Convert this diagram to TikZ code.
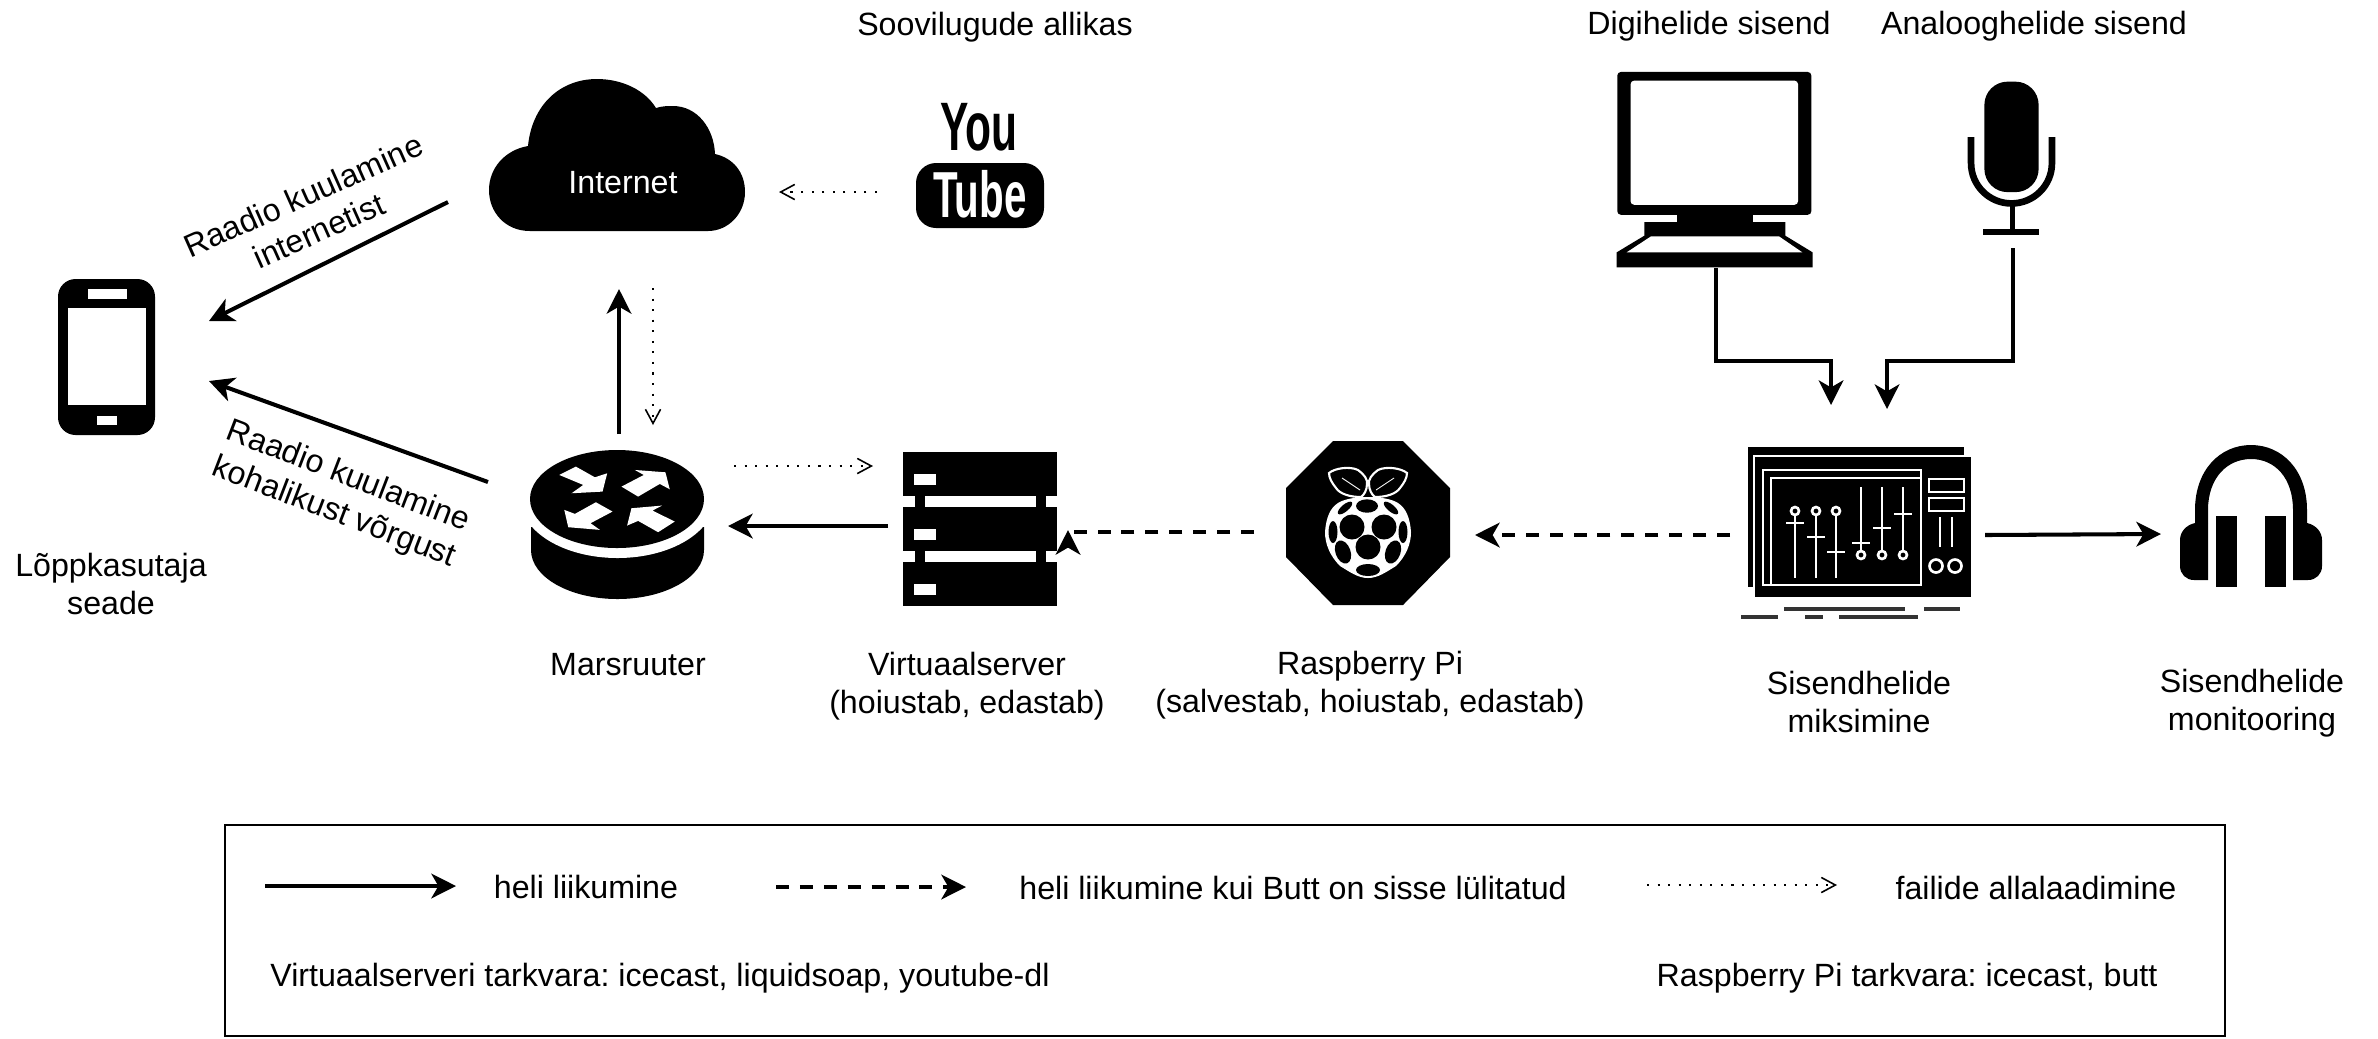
\documentclass[tikz,border=0pt]{standalone}
\usepackage{fontspec}
\setmainfont{Liberation Sans}
\usetikzlibrary{arrows.meta}

\tikzset{
	lbl/.style={font=\fontsize{9.15}{10.9}\selectfont\frenchspacing,align=center,inner sep=0pt},
	heli/.style={line width=1.15pt,-{Stealth[length=7pt,width=7pt,inset=2pt]}},
	butt/.style={heli,dash pattern=on 3.7pt off 3.1pt},
	fail/.style={line width=0.45pt,dash pattern=on 0.6pt off 2.4pt,-{Straight Barb[length=4pt,width=4.3pt,line width=0.45pt]}},
	mixline/.style={white,line width=0.75pt},
	vein/.style={white,line width=0.25pt},
	zoomed/.style={x=0.00333cm,y=-0.00333cm}
}

\begin{document}
\begin{tikzpicture}[x=0.01cm,y=-0.01cm]
	\useasboundingbox (0,0) rectangle (2378,1038);

	% phone
	\fill[rounded corners=5pt] (58,279) rectangle (155,435);
	\fill[white] (68,308) rectangle (146,405);
	\fill[white] (88,289) rectangle (127,299);
	\fill[white] (97,416) rectangle (117,425);

	% cloud
	\fill (530,231) .. controls (505,231) and (489,212) .. (489,190) .. controls (489,168) and (505,150) .. (528,146)
		.. controls (532,105) and (560,79) .. (597,79) .. controls (622,79) and (645,90) .. (656,108)
		.. controls (662,106) and (668,106) .. (673,106) .. controls (697,106) and (714,128) .. (715,154)
		.. controls (733,158) and (745,172) .. (745,192) .. controls (745,214) and (728,231) .. (708,231) -- cycle;
	\node[lbl,white] (internet) at (623,183) {Internet};

	% youtube
	\node[inner sep=0pt,font=\fontsize{19.5}{20}\bfseries\selectfont] (you) at (979,127) {\scalebox{.62}[1]{You}};
	\fill[rounded corners=5.7pt] (916,163) rectangle (1044,228);
	\node[inner sep=0pt,white,font=\fontsize{18.5}{20}\bfseries\selectfont] (tube) at (980,194) {\scalebox{.62}[1]{Tube}};

	% router
	\fill (531,527) -- (531,550) arc [start angle=180,end angle=360,x radius=86.5,y radius=-49] -- (704,527) -- cycle;
	\fill[white] (617.5,499) ellipse [x radius=97,y radius=59];
	\fill (617,499) ellipse [x radius=87,y radius=49];
	\begin{scope}[shift={(520,440)},zoomed]
		\fill[white] (118,105) -- (168,80) -- (225,112) -- (262,100) -- (248,155) -- (155,160) -- (190,135) -- cycle;
		\fill[white] (305,140) -- (372,105) -- (345,90) -- (437,97) -- (450,148) -- (420,132) -- (355,170) -- cycle;
		\fill[white] (228,187) -- (278,215) -- (212,250) -- (240,270) -- (145,262) -- (133,210) -- (165,222) -- cycle;
		\fill[white] (465,245) -- (415,277) -- (355,243) -- (322,257) -- (335,205) -- (427,197) -- (398,212) -- cycle;
	\end{scope}

	% server
	\foreach \sy in {452,507,562}{
		\fill (903,\sy) rectangle (1057,\sy+44);
		\fill[white] (914,\sy+22) rectangle (936,\sy+33);
	}
	\foreach \sy in {496,551}{
		\fill (915,\sy) rectangle (925,\sy+11);
		\fill (1036,\sy) rectangle (1046,\sy+11);
	}

	% raspberry
	\fill (1333,441) -- (1403,441) -- (1450,488) -- (1450,557) -- (1403,605) -- (1333,605) -- (1286,557) -- (1286,488) -- cycle;
	\fill[white] (1368,578) .. controls (1358,578) and (1350,572) .. (1340,566) .. controls (1330,556) and (1325,544) .. (1325,532)
		.. controls (1326,518) and (1330,508) .. (1338,503) .. controls (1350,495) and (1386,495) .. (1398,503)
		.. controls (1406,508) and (1410,518) .. (1411,532) .. controls (1411,544) and (1406,556) .. (1396,566) .. controls (1386,572) and (1378,578) .. (1368,578) -- cycle;
	\draw[white,fill=black,line width=0.6pt] (1329,473) .. controls (1335,468) and (1350,466) .. (1358,470) .. controls (1364,474) and (1368,480) .. (1367,484)
		.. controls (1367,490) and (1364,495) .. (1361,497) .. controls (1350,497) and (1340,494) .. (1336,488) .. controls (1332,483) and (1329,478) .. (1329,473) -- cycle;
	\draw[white,fill=black,line width=0.6pt] (1407,473) .. controls (1401,468) and (1386,466) .. (1378,470) .. controls (1372,474) and (1368,480) .. (1369,484)
		.. controls (1369,490) and (1372,495) .. (1375,497) .. controls (1386,497) and (1396,494) .. (1400,488) .. controls (1404,483) and (1407,478) .. (1407,473) -- cycle;
	\draw[vein] (1342,478) -- (1360,490);
	\draw[vein] (1394,478) -- (1376,490);
	\foreach \px/\py/\rx/\ry/\rot in {1367/506/11/6.7/0,1352/527/12.5/12.5/0,1384/527/12.5/12.5/0,1333/532/4.5/11/0,1403/532/4.5/11/0,1368/547/12.5/12.5/0,1343/552/7.5/12/20,1393/552/7.5/12/-20,1368/570/12/6/0,1345/508/3.5/9/-50,1391/508/3.5/9/50}
		\fill[rotate around={\rot:(\px,\py)}] (\px,\py) ellipse [x radius=\rx,y radius=\ry];

	% mixer
	\fill (1748,447) rectangle (1964,455);
	\fill (1748,447) rectangle (1753,587);
	\fill (1755,457) rectangle (1971,597);
	\draw[mixline] (1763,470) rectangle (1921,585);
	\draw[mixline] (1771,585) -- (1771,478) -- (1921,478);
	\foreach \fx/\fy in {1795/523,1816/537,1836/552}{
		\draw[mixline] (\fx,515) -- (\fx,578);
		\draw[mixline] (\fx,511) circle [radius=4];
		\draw[mixline] (\fx-9,\fy) -- (\fx+9,\fy);
	}
	\foreach \fx/\fy in {1861/543,1882/528,1903/514}{
		\draw[mixline] (\fx,487) -- (\fx,551);
		\draw[mixline] (\fx,555) circle [radius=4];
		\draw[mixline] (\fx-9,\fy) -- (\fx+9,\fy);
	}
	\draw[mixline] (1929,479) rectangle (1964,492);
	\draw[mixline] (1929,498) rectangle (1964,511);
	\draw[mixline] (1940,517) -- (1940,547);
	\draw[mixline] (1952,517) -- (1952,547);
	\draw[mixline] (1936,566) circle [radius=6.5];
	\draw[mixline] (1955,566) circle [radius=6.5];
	\draw[black!80,line width=1pt] (1784,609) -- (1905,609) (1924,609) -- (1960,609) (1741,617) -- (1778,617) (1805,617) -- (1823,617) (1839,617) -- (1918,617);

	% headphones
	\fill (2195,523) -- (2195,510) .. controls (2195,470) and (2220,445) .. (2251,445) .. controls (2282,445) and (2307,470) .. (2307,510) -- (2307,523)
		-- (2293,523) -- (2293,510) .. controls (2293,478) and (2275,459) .. (2251,459) .. controls (2227,459) and (2208,478) .. (2208,510) -- (2208,523) -- cycle;
	\fill (2208,523) -- (2195,523) .. controls (2186,525) and (2180,532) .. (2180,540) -- (2180,566) .. controls (2180,574) and (2186,580) .. (2194,580) -- (2208,580) -- cycle;
	\fill (2293,523) -- (2307,523) .. controls (2316,525) and (2322,532) .. (2322,540) -- (2322,566) .. controls (2322,574) and (2316,580) .. (2308,580) -- (2293,580) -- cycle;
	\fill (2216,516) rectangle (2237,587);
	\fill (2265,516) rectangle (2286,587);

	% computer and microphone
	\begin{scope}[shift={(1600,60)},zoomed]
		\fill[rounded corners=1pt] (52,36) rectangle (635,465);
		\fill[white,rounded corners=1pt] (92,62) rectangle (595,435);
		\fill (232,465) rectangle (460,487);
		\fill (133,487) -- (557,487) -- (557,528) -- (639,578) -- (639,623) -- (50,623) -- (50,578) -- (133,528) -- cycle;
		\fill[white] (153,530) -- (538,530) -- (608,578) -- (80,578) -- cycle;
		\fill[rounded corners=6.6pt] (1155,65) rectangle (1318,397);
		\draw[line width=1.9pt] (1115,232) -- (1115,310) arc [start angle=180,end angle=360,x radius=121.5,y radius=-121] -- (1358,232);
		\draw[line width=1.5pt] (1240,435) -- (1240,510);
		\fill (1152,508) rectangle (1318,527);
	\end{scope}

	% texts
	\node[lbl] (allikas) at (995,27) {Soovilugude allikas};
	\node[lbl] (digi) at (1709,26) {Digihelide sisend};
	\node[lbl] (analoog) at (2034,26) {Analooghelide sisend};
	\node[lbl] (seade) at (111,584) {Lõppkasutaja\\seade};
	\node[lbl] (marsruuter) at (628,665) {Marsruuter};
	\node[lbl] (virtuaal) at (967,686) {Virtuaalserver\\(hoiustab, edastab)};
	\node[lbl] (pi) at (1370,685) {Raspberry Pi\\(salvestab, hoiustab, edastab)};
	\node[lbl] (miksimine) at (1859,702) {Sisendhelide\\miksimine};
	\node[lbl] (monitooring) at (2252,703) {Sisendhelide\\monitooring};
	\node[lbl,rotate=24] (netlbl) at (311,213) {Raadio kuulamine\\internetist};
	\node[lbl,rotate=-21] (kohlbl) at (341,495) {Raadio kuulamine\\kohalikust võrgust};

	% connector ends
	\coordinate (cloudOut) at (448,202);
	\coordinate (phoneTop) at (209,321);
	\coordinate (routerOut) at (488,482);
	\coordinate (phoneLow) at (209,381);
	\coordinate (routerUp) at (619,434);
	\coordinate (cloudIn) at (619,289);
	\coordinate (cloudDown) at (653,288);
	\coordinate (routerIn) at (653,425);
	\coordinate (youOut) at (877,192);
	\coordinate (cloudSide) at (779,192);
	\coordinate (routerFile) at (734,466);
	\coordinate (srvFile) at (873,466);
	\coordinate (srvOut) at (888,526);
	\coordinate (routerSide) at (728,526);
	\coordinate (piOut) at (1254,532);
	\coordinate (srvIn) at (1068,530);
	\coordinate (mixOut) at (1730,535);
	\coordinate (piIn) at (1475,535);
	\coordinate (mixMon) at (1985,535);
	\coordinate (monIn) at (2161,534);
	\coordinate (compOut) at (1716,268);
	\coordinate (mixIn) at (1831,405);
	\coordinate (micOut) at (2013,248);
	\coordinate (mixIn2) at (1887,409);

	\draw[heli] (cloudOut) -- (phoneTop);
	\draw[heli] (routerOut) -- (phoneLow);
	\draw[heli] (routerUp) -- (cloudIn);
	\draw[fail] (cloudDown) -- (routerIn);
	\draw[fail] (youOut) -- (cloudSide);
	\draw[fail] (routerFile) -- (srvFile);
	\draw[heli] (srvOut) -- (routerSide);
	\draw[butt] (piOut) -| (srvIn);
	\draw[butt] (mixOut) -- (piIn);
	\draw[heli] (mixMon) -- (monIn);
	\draw[heli] (compOut) |- (1831,361) -- (mixIn);
	\draw[heli] (micOut) |- (1887,361) -- (mixIn2);

	% legend
	\draw[line width=0.6pt] (225,825) rectangle (2225,1036);
	\coordinate (solidA) at (265,886);
	\coordinate (solidB) at (456,886);
	\coordinate (dashA) at (776,887);
	\coordinate (dashB) at (966,887);
	\coordinate (dotA) at (1647,885);
	\coordinate (dotB) at (1837,885);
	\draw[heli] (solidA) -- (solidB);
	\draw[butt] (dashA) -- (dashB);
	\draw[fail] (dotA) -- (dotB);
	\node[lbl] (legheli) at (586,887) {heli liikumine};
	\node[lbl] (legbutt) at (1293,888) {heli liikumine kui Butt on sisse lülitatud};
	\node[lbl] (legfail) at (2036,888) {failide allalaadimine};
	\node[lbl] (legvirt) at (660,978) {Virtuaalserveri tarkvara: icecast, liquidsoap, youtube-dl};
	\node[lbl] (legpi) at (1907,978) {Raspberry Pi tarkvara: icecast, butt};
\end{tikzpicture}
\end{document}
